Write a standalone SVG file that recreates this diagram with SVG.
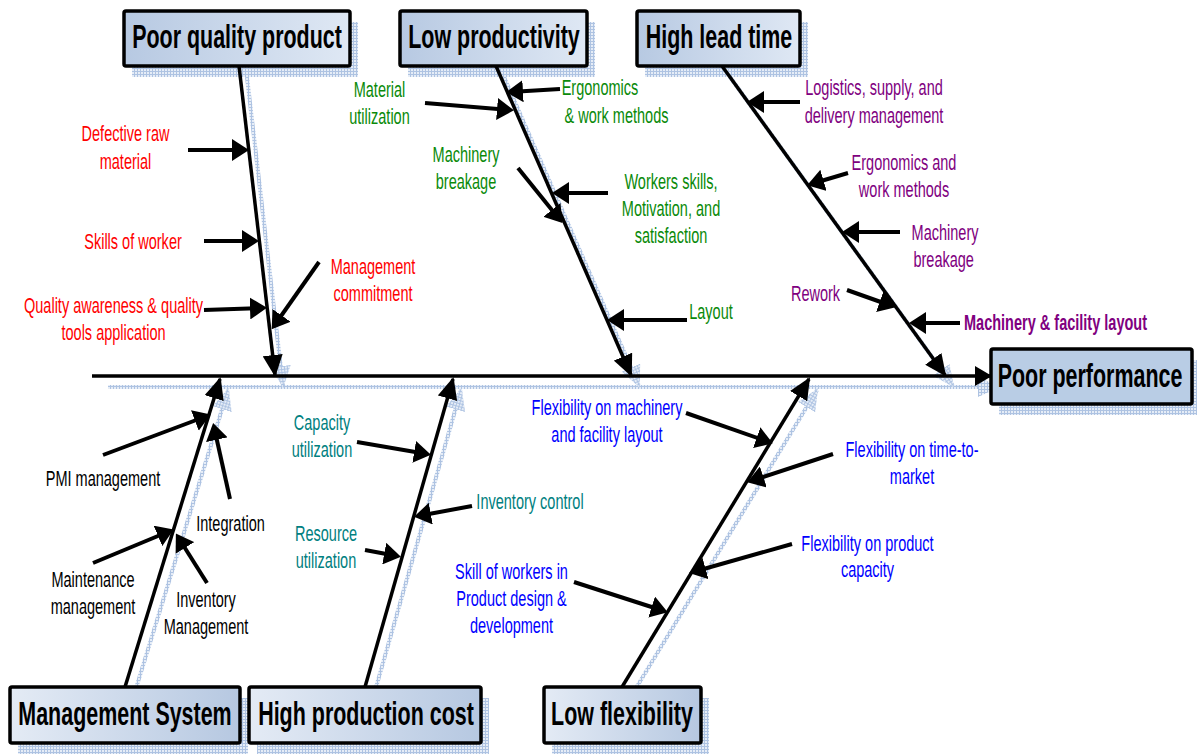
<svg xmlns="http://www.w3.org/2000/svg" width="1197" height="754" viewBox="0 0 1197 754">
  <defs>
    <style>
      .t { font-family: "Liberation Sans", Arial, sans-serif; font-size: 22px; text-anchor: middle; }
      .title { font-family: "Liberation Sans", Arial, sans-serif; font-size: 33px; font-weight: bold; text-anchor: middle; fill: #000; }
      .red { fill: #ff0000; }
      .green { fill: #0a8a0a; }
      .purple { fill: #800080; }
      .black { fill: #000000; }
      .teal { fill: #008080; }
      .blue { fill: #0000ff; }
      .box { stroke: #000; stroke-width: 3.5; }
      .cause { fill: none; stroke: #000; stroke-width: 4; marker-end: url(#head); }
      .bone { fill: none; stroke: #000; stroke-width: 3.5; marker-end: url(#boneHead); }
      .spine { fill: none; stroke: #000; stroke-width: 3.5; marker-end: url(#spineHead); }
      .shadowLine { fill: none; stroke: url(#hatch); stroke-width: 4; marker-end: url(#shadowHead); }
    </style>
    <pattern id="hatch" width="3" height="3" patternUnits="userSpaceOnUse">
      <rect width="3" height="3" fill="#e6edf7"/>
      <rect width="3" height="1" fill="#aec3e2"/>
      <rect width="1" height="3" fill="#aec3e2"/>
    </pattern>
    <linearGradient id="fillA" x1="0" y1="0" x2="1" y2="0">
      <stop offset="0" stop-color="#b7c9e2"/>
      <stop offset="1" stop-color="#dfe8f4"/>
    </linearGradient>
    <linearGradient id="fillB" x1="0" y1="0" x2="1" y2="0">
      <stop offset="0" stop-color="#e4ebf5"/>
      <stop offset="1" stop-color="#b6c8e1"/>
    </linearGradient>
    <marker id="head" markerUnits="userSpaceOnUse" markerWidth="17" markerHeight="22" viewBox="0 0 17 22" refX="13" refY="11" orient="auto">
      <path d="M0,0 L17,11 L0,22 Z" fill="#000"/>
    </marker>
    <marker id="boneHead" markerUnits="userSpaceOnUse" markerWidth="22" markerHeight="20" viewBox="0 0 22 20" refX="20" refY="10" orient="auto">
      <path d="M0,0 L22,10 L0,20 Z" fill="#000"/>
    </marker>
    <marker id="spineHead" markerUnits="userSpaceOnUse" markerWidth="17" markerHeight="20" viewBox="0 0 17 20" refX="15" refY="10" orient="auto">
      <path d="M0,0 L17,10 L0,20 Z" fill="#000"/>
    </marker>
    <marker id="shadowHead" markerUnits="userSpaceOnUse" markerWidth="22" markerHeight="20" viewBox="0 0 22 20" refX="20" refY="10" orient="auto">
      <path d="M0,0 L22,10 L0,20 Z" fill="url(#hatch)"/>
    </marker>
  </defs>

  <rect width="1197" height="754" fill="#ffffff"/>

  <!-- drop shadows of the skeleton and the category boxes -->
  <g id="shadows" transform="translate(8,11)">
    <line class="shadowLine" x1="100" y1="376" x2="990" y2="376"/>
    <line class="shadowLine" x1="239" y1="66" x2="275" y2="375"/>
    <line class="shadowLine" x1="496" y1="66" x2="631" y2="375"/>
    <line class="shadowLine" x1="722" y1="66" x2="945" y2="375"/>
    <line class="shadowLine" x1="125" y1="687" x2="220" y2="379"/>
    <line class="shadowLine" x1="365" y1="687" x2="453" y2="379"/>
    <line class="shadowLine" x1="622" y1="687" x2="809" y2="379"/>
    <rect x="124" y="11" width="226" height="55" fill="url(#hatch)"/>
    <rect x="400" y="11" width="187" height="55" fill="url(#hatch)"/>
    <rect x="637" y="11" width="163" height="55" fill="url(#hatch)"/>
    <rect x="991" y="349" width="201" height="55" fill="url(#hatch)"/>
    <rect x="10" y="687" width="230" height="56" fill="url(#hatch)"/>
    <rect x="249" y="687" width="232" height="56" fill="url(#hatch)"/>
    <rect x="544" y="687" width="157" height="56" fill="url(#hatch)"/>
  </g>

  <!-- connectors: spine, category bones and cause arrows -->
  <g id="connectors">
    <line class="spine" x1="92" y1="376" x2="990" y2="376"/>

    <line class="bone" x1="239" y1="66" x2="275" y2="375"/>
    <line class="bone" x1="496" y1="66" x2="631" y2="375"/>
    <line class="bone" x1="722" y1="66" x2="945" y2="375"/>
    <line class="bone" x1="125" y1="687" x2="220" y2="379"/>
    <line class="bone" x1="365" y1="687" x2="453" y2="379"/>
    <line class="bone" x1="622" y1="687" x2="809" y2="379"/>

    <!-- poor quality product -->
    <line class="cause" x1="188" y1="150" x2="245" y2="150"/>
    <line class="cause" x1="204" y1="241" x2="255" y2="241"/>
    <line class="cause" x1="204" y1="310" x2="263" y2="308"/>
    <line class="cause" x1="319" y1="262" x2="274" y2="326"/>

    <!-- low productivity -->
    <line class="cause" x1="425" y1="103" x2="510" y2="110"/>
    <line class="cause" x1="560" y1="89" x2="510" y2="92"/>
    <line class="cause" x1="518" y1="168" x2="560" y2="220"/>
    <line class="cause" x1="608" y1="193" x2="556" y2="193"/>
    <line class="cause" x1="687" y1="320" x2="611" y2="320"/>

    <!-- high lead time -->
    <line class="cause" x1="800" y1="102" x2="751" y2="102"/>
    <line class="cause" x1="848" y1="173" x2="811" y2="184"/>
    <line class="cause" x1="900" y1="232" x2="846" y2="232"/>
    <line class="cause" x1="847" y1="290" x2="892" y2="306"/>
    <line class="cause" x1="960" y1="323" x2="913" y2="323"/>

    <!-- management system -->
    <line class="cause" x1="103" y1="455" x2="207" y2="416"/>
    <line class="cause" x1="230" y1="499" x2="214" y2="427"/>
    <line class="cause" x1="93" y1="563" x2="170" y2="531"/>
    <line class="cause" x1="207" y1="583" x2="178" y2="537"/>

    <!-- high production cost -->
    <line class="cause" x1="357" y1="442" x2="427" y2="454"/>
    <line class="cause" x1="472" y1="506" x2="418" y2="516"/>
    <line class="cause" x1="365" y1="550" x2="397" y2="556"/>

    <!-- low flexibility -->
    <line class="cause" x1="686" y1="413" x2="769" y2="442"/>
    <line class="cause" x1="833" y1="454" x2="751" y2="481"/>
    <line class="cause" x1="792" y1="544" x2="693" y2="572"/>
    <line class="cause" x1="574" y1="582" x2="664" y2="611"/>
  </g>

  <!-- category and effect boxes -->
  <g id="node-poor-quality-product">
    <rect class="box" x="124" y="11" width="226" height="55" rx="2" fill="url(#fillA)"/>
    <text class="title" transform="translate(237,48) scale(0.65,1)">Poor quality product</text>
  </g>
  <g id="node-low-productivity">
    <rect class="box" x="400" y="11" width="187" height="55" rx="2" fill="url(#fillA)"/>
    <text class="title" transform="translate(494,48) scale(0.65,1)">Low productivity</text>
  </g>
  <g id="node-high-lead-time">
    <rect class="box" x="637" y="11" width="163" height="55" rx="2" fill="url(#fillA)"/>
    <text class="title" transform="translate(719,48) scale(0.65,1)">High lead time</text>
  </g>
  <g id="node-poor-performance">
    <rect class="box" x="991" y="349" width="201" height="55" rx="2" fill="#b9cde5"/>
    <text class="title" transform="translate(1090,387) scale(0.65,1)">Poor performance</text>
  </g>
  <g id="node-management-system">
    <rect class="box" x="10" y="687" width="230" height="56" rx="2" fill="url(#fillB)"/>
    <text class="title" transform="translate(125,725) scale(0.65,1)">Management System</text>
  </g>
  <g id="node-high-production-cost">
    <rect class="box" x="249" y="687" width="232" height="56" rx="2" fill="url(#fillB)"/>
    <text class="title" transform="translate(366,725) scale(0.65,1)">High production cost</text>
  </g>
  <g id="node-low-flexibility">
    <rect class="box" x="544" y="687" width="157" height="56" rx="2" fill="url(#fillB)"/>
    <text class="title" transform="translate(622,725) scale(0.65,1)">Low flexibility</text>
  </g>

  <!-- cause labels -->
  <g id="labels-poor-quality">
    <text id="lbl-defective" class="t red" transform="translate(125.5,141) scale(0.66,1)"><tspan x="0">Defective raw</tspan><tspan x="0" dy="28">material</tspan></text>
    <text id="lbl-skills" class="t red" transform="translate(133,249) scale(0.66,1)">Skills of worker</text>
    <text id="lbl-awareness" class="t red" transform="translate(113.5,313) scale(0.66,1)"><tspan x="0">Quality awareness &amp; quality</tspan><tspan x="0" dy="27">tools application</tspan></text>
    <text id="lbl-commitment" class="t red" transform="translate(373,274) scale(0.66,1)"><tspan x="0">Management</tspan><tspan x="0" dy="27">commitment</tspan></text>
  </g>
  <g id="labels-low-productivity">
    <text id="lbl-material" class="t green" transform="translate(379.5,97) scale(0.66,1)"><tspan x="0">Material</tspan><tspan x="0" dy="27">utilization</tspan></text>
    <text id="lbl-ergo1" class="t green" transform="translate(600,95) scale(0.66,1)">Ergonomics</text>
    <text id="lbl-ergo1b" class="t green" transform="translate(616.5,123) scale(0.66,1)">&amp; work methods</text>
    <text id="lbl-breakage1" class="t green" transform="translate(466,162) scale(0.66,1)"><tspan x="0">Machinery</tspan><tspan x="0" dy="27">breakage</tspan></text>
    <text id="lbl-workers" class="t green" transform="translate(671,189) scale(0.66,1)"><tspan x="0">Workers skills,</tspan><tspan x="0" dy="27">Motivation, and</tspan><tspan x="0" dy="27">satisfaction</tspan></text>
    <text id="lbl-layout" class="t green" transform="translate(711,319) scale(0.66,1)">Layout</text>
  </g>
  <g id="labels-high-lead-time">
    <text id="lbl-logistics" class="t purple" transform="translate(874,95) scale(0.66,1)"><tspan x="0">Logistics, supply, and</tspan><tspan x="0" dy="28">delivery management</tspan></text>
    <text id="lbl-ergo2" class="t purple" transform="translate(904,170) scale(0.66,1)"><tspan x="0">Ergonomics and</tspan><tspan x="0" dy="27">work methods</tspan></text>
    <text id="lbl-breakage2" class="t purple" transform="translate(945,240) scale(0.66,1)"><tspan x="0">Machinery</tspan><tspan x="-2" dy="27">breakage</tspan></text>
    <text id="lbl-rework" class="t purple" transform="translate(815.5,301) scale(0.66,1)">Rework</text>
    <text id="lbl-facility" class="t purple" font-weight="bold" transform="translate(1055.5,330) scale(0.66,1)">Machinery &amp; facility layout</text>
  </g>
  <g id="labels-management-system">
    <text id="lbl-pmi" class="t black" transform="translate(103,486) scale(0.66,1)">PMI management</text>
    <text id="lbl-integration" class="t black" transform="translate(230.5,531) scale(0.66,1)">Integration</text>
    <text id="lbl-maintenance" class="t black" transform="translate(93,587) scale(0.66,1)"><tspan x="0">Maintenance</tspan><tspan x="0" dy="27">management</tspan></text>
    <text id="lbl-inventory-mgmt" class="t black" transform="translate(206,607) scale(0.66,1)"><tspan x="0">Inventory</tspan><tspan x="0" dy="27">Management</tspan></text>
  </g>
  <g id="labels-production-cost">
    <text id="lbl-capacity" class="t teal" transform="translate(322,430) scale(0.66,1)"><tspan x="0">Capacity</tspan><tspan x="0" dy="27">utilization</tspan></text>
    <text id="lbl-inventory-control" class="t teal" transform="translate(530,509) scale(0.66,1)">Inventory control</text>
    <text id="lbl-resource" class="t teal" transform="translate(326,541) scale(0.66,1)"><tspan x="0">Resource</tspan><tspan x="0" dy="27">utilization</tspan></text>
  </g>
  <g id="labels-low-flexibility">
    <text id="lbl-flex-machinery" class="t blue" transform="translate(607,415) scale(0.66,1)"><tspan x="0">Flexibility on machinery</tspan><tspan x="0" dy="27">and facility layout</tspan></text>
    <text id="lbl-flex-time" class="t blue" transform="translate(912,457) scale(0.66,1)"><tspan x="0">Flexibility on time-to-</tspan><tspan x="0" dy="27">market</tspan></text>
    <text id="lbl-flex-product" class="t blue" transform="translate(867.5,551) scale(0.66,1)"><tspan x="0">Flexibility on product</tspan><tspan x="0" dy="26">capacity</tspan></text>
    <text id="lbl-skill-workers" class="t blue" transform="translate(511.5,579) scale(0.66,1)"><tspan x="0">Skill of workers in</tspan><tspan x="0" dy="27">Product design &amp;</tspan><tspan x="0" dy="27">development</tspan></text>
  </g>
</svg>
